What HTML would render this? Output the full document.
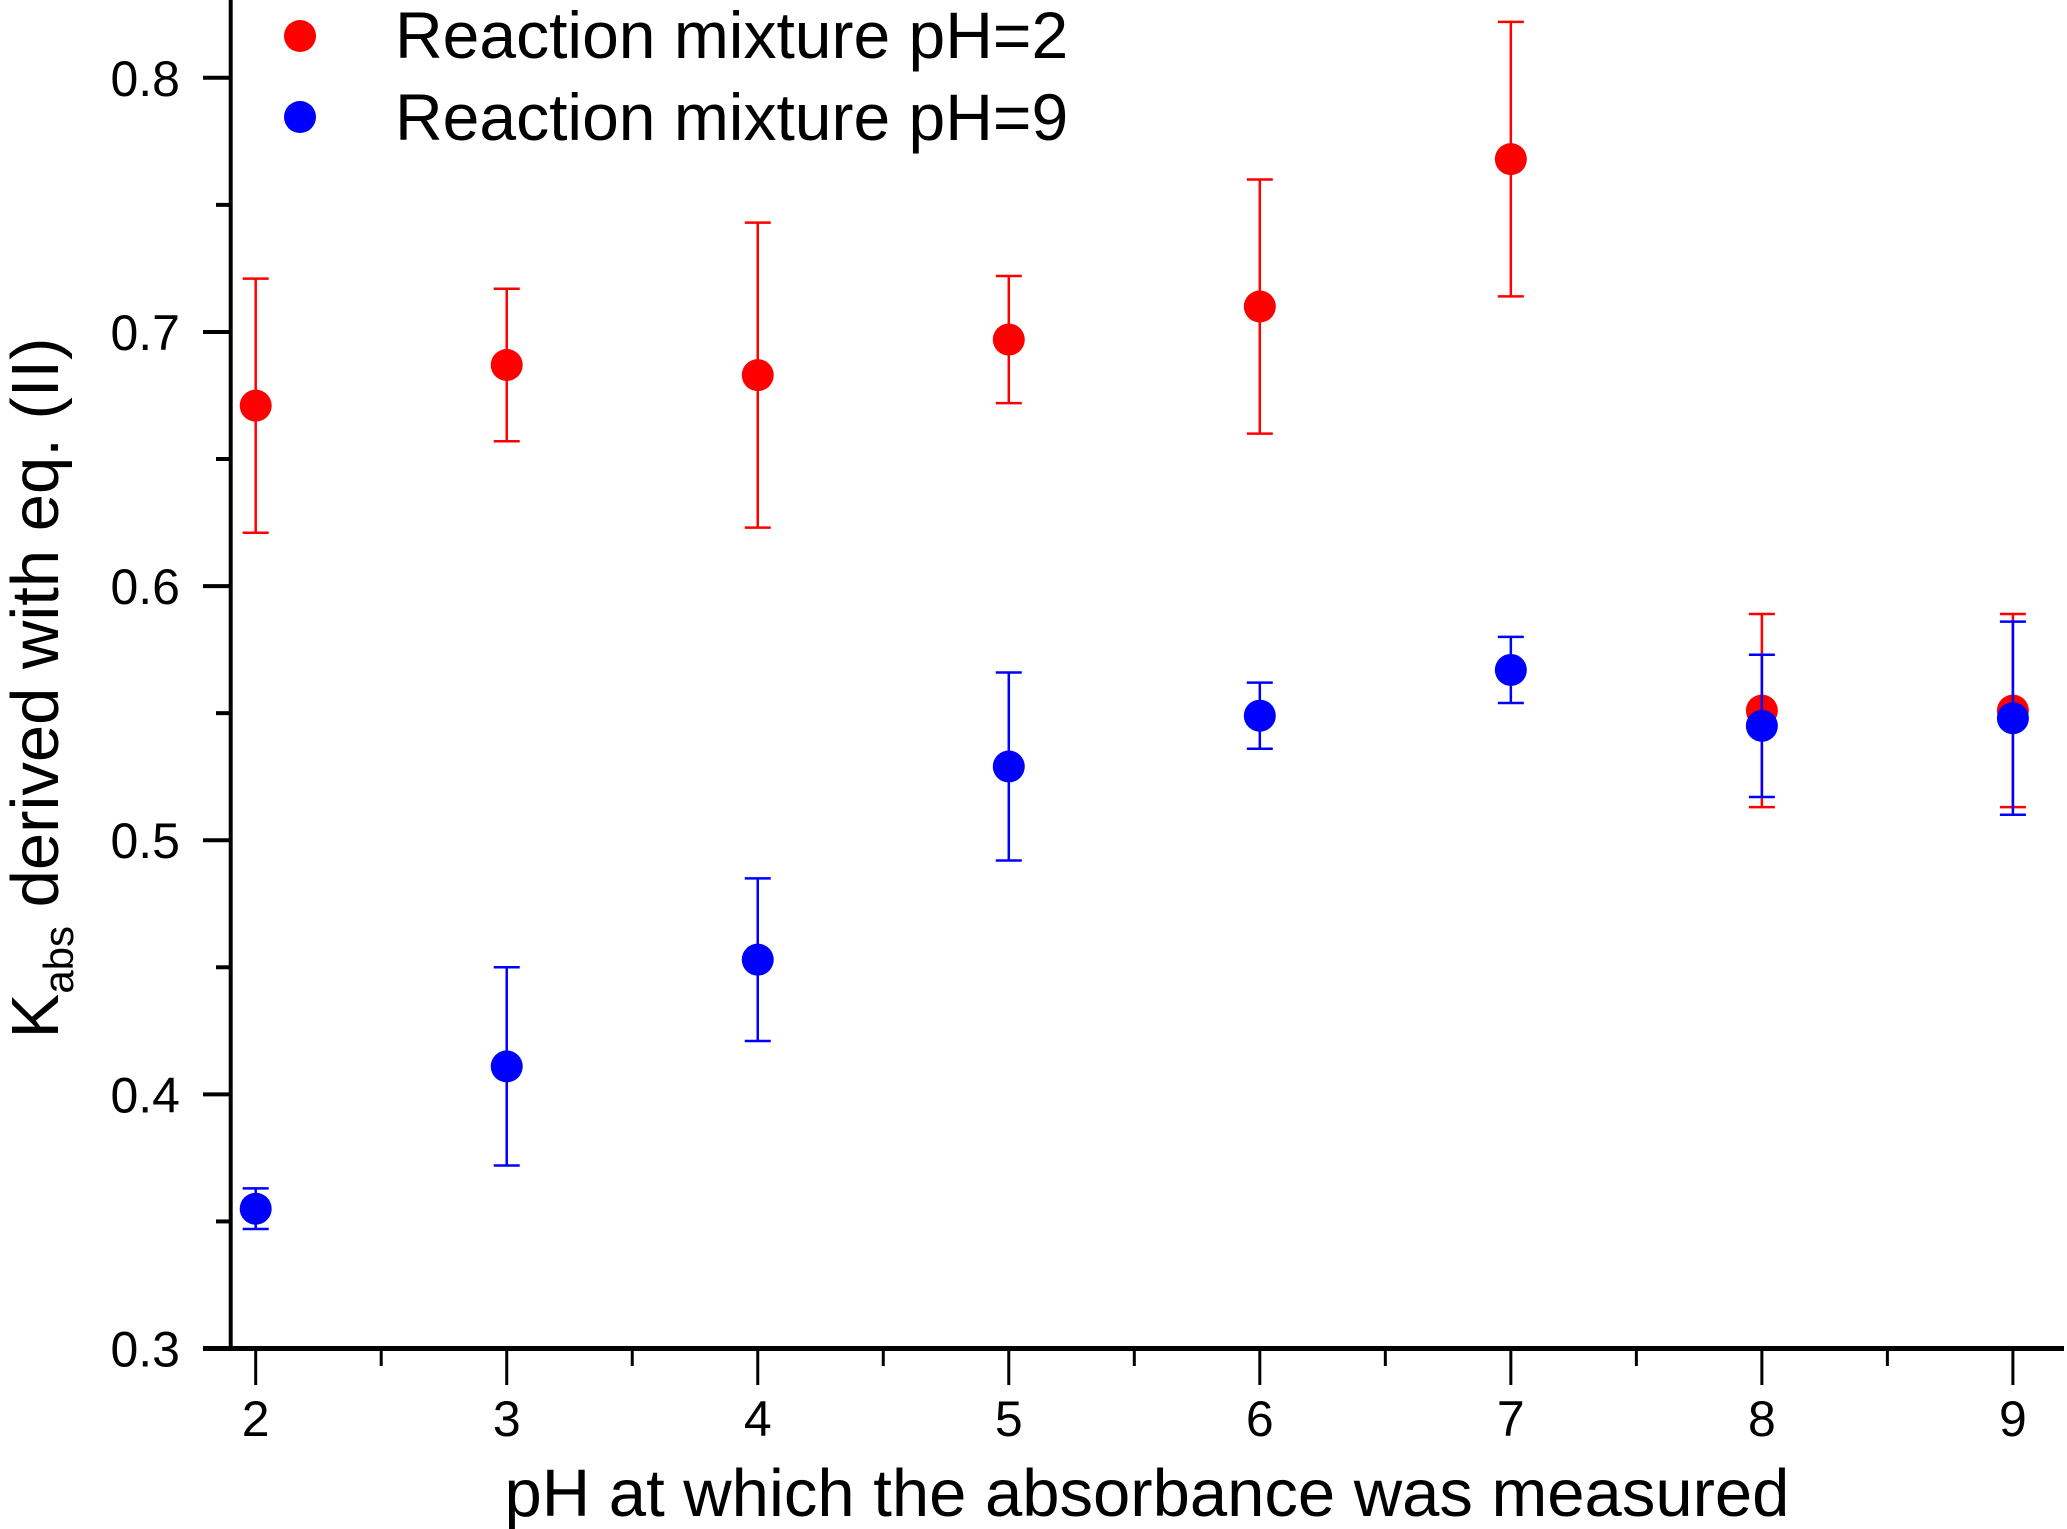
<!DOCTYPE html>
<html><head><meta charset="utf-8"><style>
html,body{margin:0;padding:0;background:#fff}
svg{display:block;font-family:"Liberation Sans",Arial,sans-serif}
</style></head><body>
<svg id="chart" width="2067" height="1529" viewBox="0 0 2067 1529" xmlns="http://www.w3.org/2000/svg">
<g id="axes"></g>
<g id="marks"></g>
<g id="legend">
<circle cx="300" cy="36" r="16" fill="#ff0000"/>
<text x="395" y="58" font-size="66">Reaction mixture pH=2</text>
<circle cx="300" cy="117" r="16" fill="#0000ff"/>
<text x="395" y="140" font-size="66">Reaction mixture pH=9</text>
</g>
<text x="1147" y="1516" font-size="67" text-anchor="middle">pH at which the absorbance was measured</text>
<text transform="translate(58,688) rotate(-90)" font-size="67" text-anchor="middle">K<tspan font-size="42" dy="15">abs</tspan><tspan dy="-15"> derived with eq. (II)</tspan></text>
</svg>
<script>
const categories=[2,3,4,5,6,7,8,9];
const redValues=[0.671,0.687,0.683,0.697,0.710,0.768,0.551,0.551];
const redErr=[0.050,0.030,0.060,0.025,0.050,0.054,0.038,0.038];
const blueValues=[0.355,0.411,0.453,0.529,0.549,0.567,0.545,0.548];
const blueErr=[0.008,0.039,0.032,0.037,0.013,0.013,0.028,0.038];
const yTicks=[0.3,0.4,0.5,0.6,0.7,0.8];
const yTickLabels=["0.3","0.4","0.5","0.6","0.7","0.8"];
const xTickLabels=["2","3","4","5","6","7","8","9"];

const NS="http://www.w3.org/2000/svg";
const xS=v=>255.7+(v-2)*(2012.9-255.7)/7;
const yS=v=>1348.5-(v-0.3)*(1348.5-77.8)/0.5;
function mk(tag,attrs,parent){const e=document.createElementNS(NS,tag);for(const k in attrs)e.setAttribute(k,attrs[k]);parent.appendChild(e);return e;}
const axes=document.getElementById('axes');
const marks=document.getElementById('marks');
let e=mk('line',{x1:230.7,y1:0,x2:230.7,y2:1350.5,stroke:'#000','stroke-width':4},axes);


e=mk('line',{x1:203,y1:1348.5,x2:2064,y2:1348.5,stroke:'#000','stroke-width':5},axes);


yTicks.forEach((v,i)=>{
  let t=mk('line',{x1:203,y1:yS(v),x2:230,y2:yS(v),stroke:'#000','stroke-width':4},axes);
  
  
  let m=mk('line',{x1:216,y1:yS(v+0.05),x2:230,y2:yS(v+0.05),stroke:'#000','stroke-width':4},axes);
  
  
  let l=mk('text',{x:180,y:yS(v)+18,'font-size':50,'text-anchor':'end'},axes);
  l.textContent=yTickLabels[i];
  
  
});
categories.forEach((c,i)=>{
  let t=mk('line',{x1:xS(c),y1:1348,x2:xS(c),y2:1385,stroke:'#000','stroke-width':3},axes);
  
  
  if(i<categories.length-1){
    let m=mk('line',{x1:xS(c+0.5),y1:1348,x2:xS(c+0.5),y2:1366,stroke:'#000','stroke-width':3},axes);
    
    
  }
  let l=mk('text',{x:xS(c),y:1436,'font-size':50,'text-anchor':'middle'},axes);
  l.textContent=xTickLabels[i];
  
  
});
function series(vals,errs,col,name){
  const g=mk('g',{},marks);
  
  
  categories.forEach((c,i)=>{
    const x=xS(c),y1=yS(vals[i]+errs[i]),y2=yS(vals[i]-errs[i]);
    const eb=mk('path',{d:`M${x},${y1}V${y2}M${x-13},${y1}H${x+13}M${x-13},${y2}H${x+13}`,stroke:col,'stroke-width':2.5,fill:'none'},g);
    
    
  });
  categories.forEach((c,i)=>{
    const p=mk('circle',{cx:xS(c),cy:yS(vals[i]),r:16,fill:col},g);
    
    
  });
}
series(redValues,redErr,'#ff0000','ph2');
series(blueValues,blueErr,'#0000ff','ph9');
</script>
</body></html>
